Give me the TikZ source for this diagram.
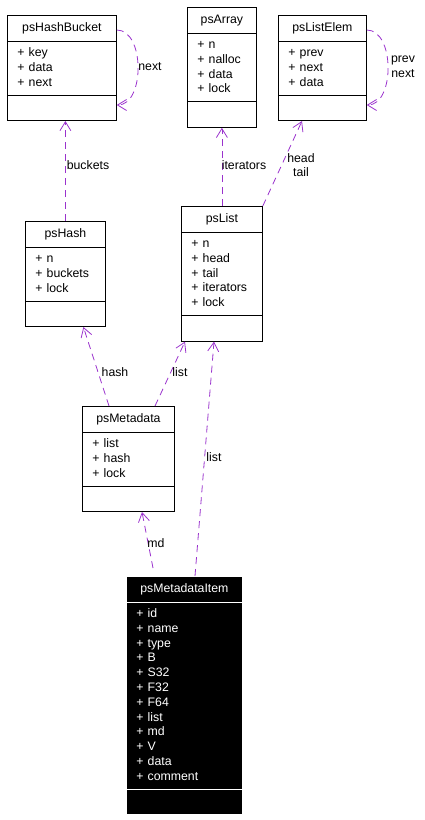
\documentclass[tikz,border=0pt]{standalone}
\usepackage{fontspec}
\setmainfont{Liberation Sans}
\usetikzlibrary{shapes.multipart,arrows.meta,calc}

\definecolor{edgecol}{HTML}{9A32CD}
\newcommand{\clsfont}{\fontsize{12.3}{14.8}\selectfont}
\newcommand{\ttl}[1]{\makebox[\linewidth][c]{\rule[-5.5pt]{0pt}{17pt}#1}}
\newcommand{\mem}[1]{\strut#1\strut}
\newcommand{\nops}{\rule{0pt}{16.5pt}}

\begin{document}
\begin{tikzpicture}[
  x=1pt, y=-1pt,
  cls/.style={rectangle split, rectangle split parts=3, draw, line width=0.8pt,
              text width=#1, align=left, inner xsep=10pt, inner ysep=4.15pt,
              font=\clsfont, anchor=north west},
  dark/.style={fill=black, draw=white, text=white},
  rel/.style={draw=edgecol, line width=0.8pt, dash pattern=on 7pt off 5pt,
              -{Straight Barb[length=9pt,width=11pt]}},
  lbl/.style={font=\clsfont, align=center, inner sep=0pt},
]
\useasboundingbox (0,0) rectangle (424,820);

%% Classes
\node[cls=89] (hb) at (7,15)
  {\ttl{psHashBucket}\nodepart{two}\mem{+ key\\+ data\\+ next}\nodepart{three}\nops};
\node[cls=49] (arr) at (187,7)
  {\ttl{psArray}\nodepart{two}\mem{+ n\\+ nalloc\\+ data\\+ lock}\nodepart{three}\nops};
\node[cls=68] (le) at (278,15)
  {\ttl{psListElem}\nodepart{two}\mem{+ prev\\+ next\\+ data}\nodepart{three}\nops};
\node[cls=60] (hs) at (25,221)
  {\ttl{psHash}\nodepart{two}\mem{+ n\\+ buckets\\+ lock}\nodepart{three}\nops};
\node[cls=61] (ls) at (181,206)
  {\ttl{psList}\nodepart{two}\mem{+ n\\+ head\\+ tail\\+ iterators\\+ lock}\nodepart{three}\nops};
\node[cls=72] (md) at (82,406)
  {\ttl{psMetadata}\nodepart{two}\mem{+ list\\+ hash\\+ lock}\nodepart{three}\nops};
\node[cls=96, dark] (mi) at (126,576)
  {\ttl{psMetadataItem}\nodepart{two}\mem{+ id\\+ name\\+ type\\+ B\\+ S32\\+ F32\\+ F64\\+ list\\+ md\\+ V\\+ data\\+ comment}\nodepart{three}\nops};

%% Self references
\draw[rel] ($(hb.north east)+(0,15)$) .. controls (145,30) and (145,105) .. ($(hb.south east)+(0,-16)$);
\node[lbl] (lnext) at (150,67) {next};
\draw[rel] ($(le.north east)+(0,15)$) .. controls (395,30) and (395,105) .. ($(le.south east)+(0,-16)$);
\node[lbl] (lprev) at (403,67) {prev\\next};

%% Usage edges
\draw[rel] (hs.north) -- (hs.north |- hb.south);
\node[lbl] (lbuckets) at (88,165) {buckets};
\draw[rel] (ls.north) -- (arr.south);
\node[lbl] (literators) at (244,165) {iterators};
\draw[rel] (ls.north east) -- ($(le.south west)+(24,0)$);
\node[lbl] (lhead) at (301,165) {head\\tail};
\draw[rel] ($(md.north west)+(27,0)$) -- ($(hs.south)+(18,0)$);
\node[lbl] (lhash) at (115,372) {hash};
\draw[rel] ($(md.north west)+(73,0)$) -- ($(ls.south west)+(4,0)$);
\node[lbl] (llist) at (180,372) {list};
\draw[rel] ($(mi.north west)+(69,0)$) -- ($(ls.south west)+(33,0)$);
\node[lbl] (llist2) at (214,457) {list};
\draw[rel] ($(mi.north west)+(27,-8)$) -- ($(md.south west)+(60,0)$);
\node[lbl] (lmd) at (156,543) {md};

\end{tikzpicture}
\end{document}
